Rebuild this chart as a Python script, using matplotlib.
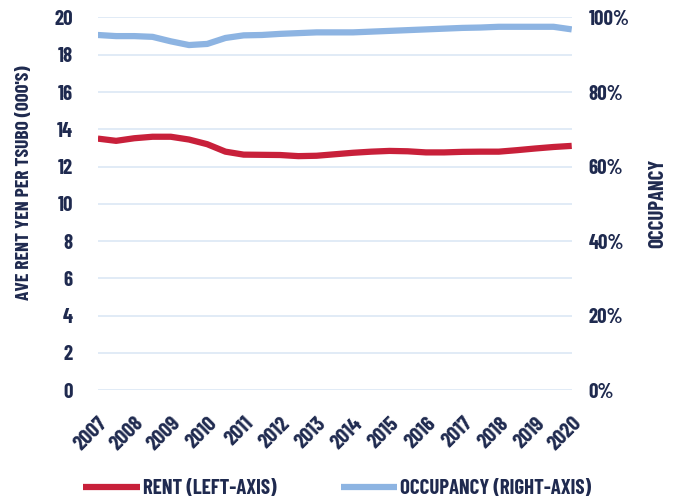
import matplotlib
matplotlib.use("Agg")
import matplotlib.pyplot as plt

# half-yearly points
years = [2007.0, 2007.5, 2008.0, 2008.5, 2009.0, 2009.5, 2010.0, 2010.5, 2011.0,
         2011.5, 2012.0, 2012.5, 2013.0, 2013.5, 2014.0, 2014.5, 2015.0, 2015.5,
         2016.0, 2016.5, 2017.0, 2017.5, 2018.0, 2018.5, 2019.0, 2019.5, 2020.0]
rent = [13.50, 13.38, 13.52, 13.60, 13.60, 13.45, 13.20, 12.80, 12.64,
        12.63, 12.62, 12.56, 12.58, 12.66, 12.74, 12.80, 12.84, 12.82,
        12.76, 12.76, 12.79, 12.80, 12.80, 12.88, 12.97, 13.05, 13.11]
occupancy = [95.3, 95.0, 95.0, 94.8, 93.6, 92.6, 92.9, 94.5, 95.2,
             95.3, 95.6, 95.8, 96.0, 96.0, 96.0, 96.2, 96.4, 96.6,
             96.8, 97.0, 97.2, 97.3, 97.5, 97.5, 97.5, 97.5, 96.8]
year_ticks = list(range(2007, 2021))
left_ticks = list(range(0, 21, 2))
right_ticks = [0, 20, 40, 60, 80, 100]

navy = "#1F2A4F"
red = "#C8203A"
blue = "#8DB4E2"
grid = "#DCE8F5"

plt.rcParams['font.family'] = ['Barlow Condensed', 'Roboto Condensed', 'DejaVu Sans']
plt.rcParams['font.weight'] = 'bold'
plt.rcParams['axes.labelweight'] = 'bold'
plt.rcParams['font.stretch'] = 'condensed'

fig = plt.figure(figsize=(6.75, 4.99), dpi=100)
ax = fig.add_axes([0.145, 0.218, 0.702, 0.747])
ax2 = ax.twinx()

l1, = ax.plot(years, rent, color=red, lw=4.5, solid_capstyle='butt', label='RENT (LEFT-AXIS)')
l2, = ax2.plot(years, occupancy, color=blue, lw=4.5, solid_capstyle='butt', label='OCCUPANCY (RIGHT-AXIS)')

ax.set_xlim(2007, 2020)
ax.set_ylim(0, 20)
ax2.set_ylim(0, 100)
ax.set_yticks(left_ticks)
ax2.set_yticks(right_ticks)
ax2.set_yticklabels([f"{t}%" for t in right_ticks])
ax.set_xticks(year_ticks)
ax.set_xticklabels([str(y) for y in year_ticks], rotation=45, ha='right',
                   rotation_mode='anchor')

for a in (ax, ax2):
    for s in a.spines.values():
        s.set_visible(False)
    a.tick_params(length=0, colors=navy, labelsize=15)
ax.tick_params(axis='y', pad=18)
ax2.tick_params(axis='y', pad=12)
ax.tick_params(axis='x', pad=17, labelsize=15.5)

ax.grid(axis='y', color=grid, lw=1.2)
ax.set_axisbelow(True)

ax.set_ylabel("AVE RENT YEN PER TSUBO (000'S)", color=navy, fontsize=14)
ax.yaxis.set_label_coords(-0.137, 0.558)
ax2.set_ylabel("OCCUPANCY", color=navy, fontsize=15, labelpad=14)

fig.legend(handles=[l1, l2], loc='lower center', bbox_to_anchor=(0.5, -0.036),
           ncol=2, frameon=False, fontsize=15, handlelength=2.7,
           columnspacing=3.1, handletextpad=0.15, labelcolor=navy)

fig.savefig("out.png", dpi=100)
